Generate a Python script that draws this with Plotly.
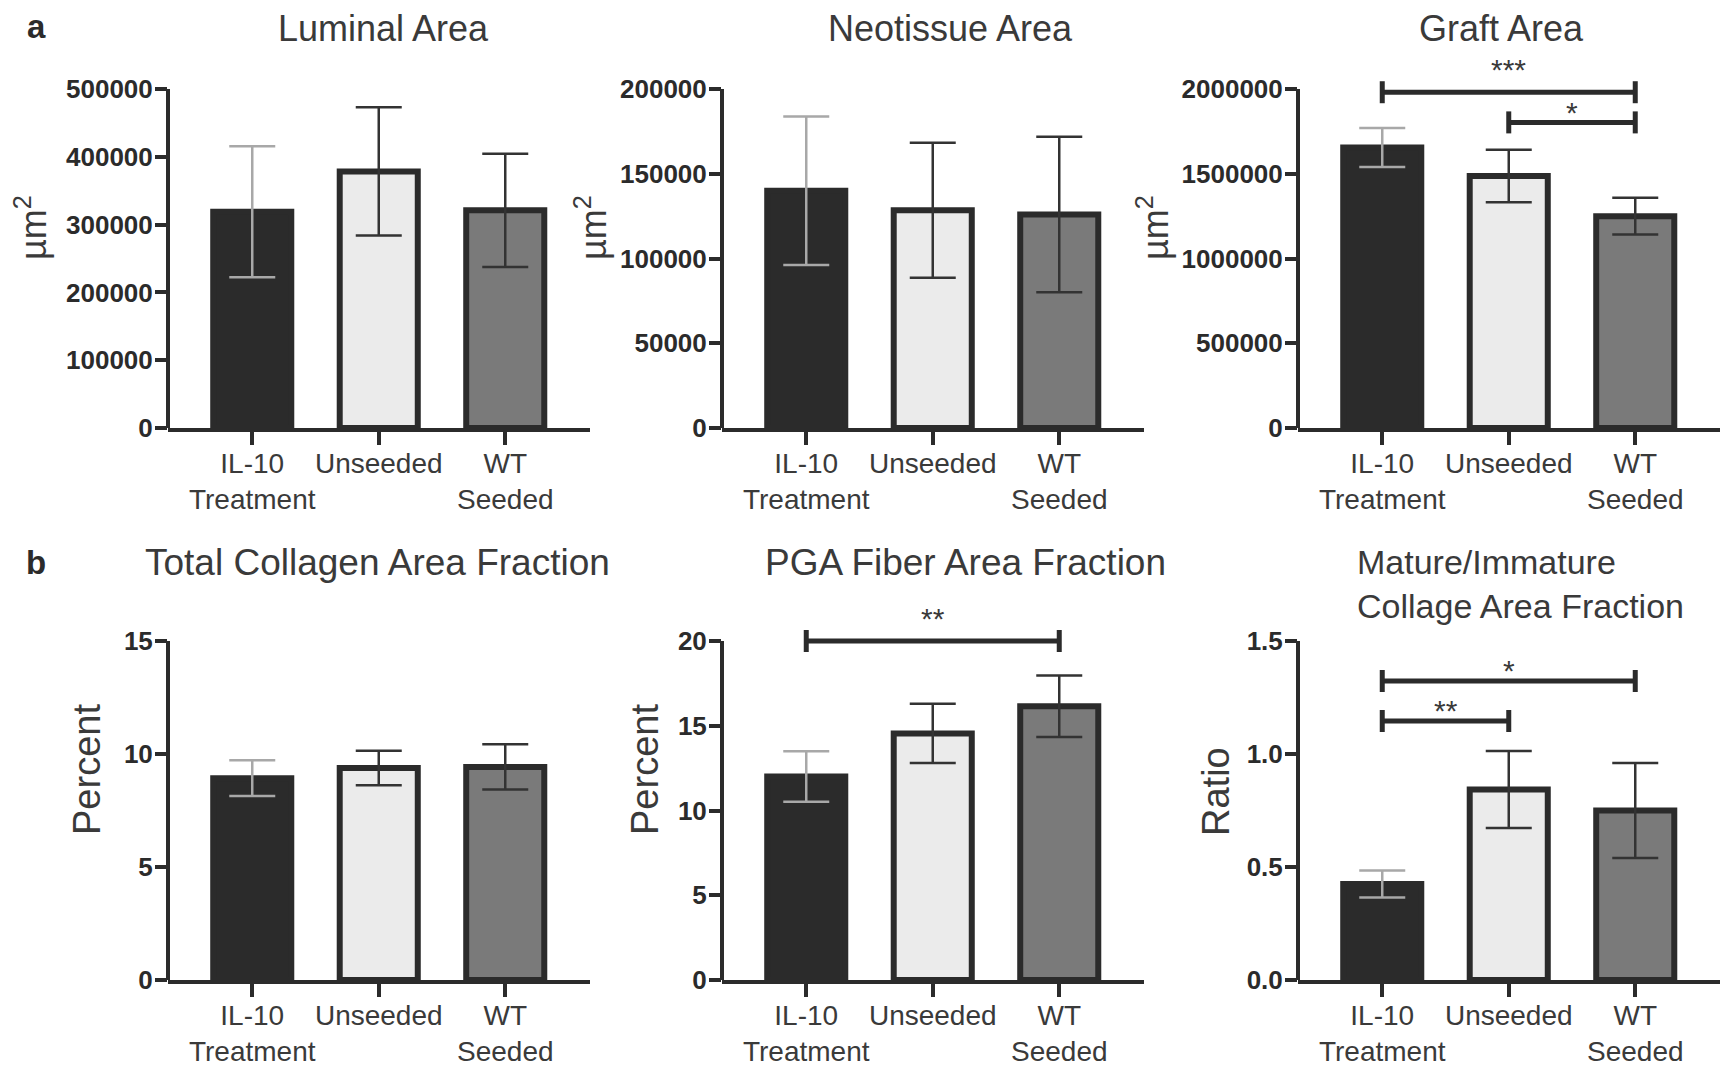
import plotly.graph_objects as go

# ---------------- data ----------------
categories = ["IL-10 Treatment", "Unseeded", "WT Seeded"]
tick_labels = ["IL-10<br>Treatment", "Unseeded", "WT<br>Seeded"]

luminal_mean = [319000, 378500, 321000]
luminal_sem = [96500, 94400, 83600]
luminal_ticks = [0, 100000, 200000, 300000, 400000, 500000]

neotissue_mean = [140000, 128500, 126000]
neotissue_sem = [43800, 39800, 45900]
neotissue_ticks = [0, 50000, 100000, 150000, 200000]

graft_mean = [1655000, 1487000, 1250000]
graft_sem = [115000, 155000, 108000]
graft_ticks = [0, 500000, 1000000, 1500000, 2000000]
graft_sig = [("IL-10 Treatment", "WT Seeded", 1981000, "***"),
             ("Unseeded", "WT Seeded", 1803000, "*")]

collagen_mean = [8.93, 9.38, 9.43]
collagen_sem = [0.79, 0.76, 1.00]
collagen_ticks = [0, 5, 10, 15]

pga_mean = [12.0, 14.55, 16.15]
pga_sem = [1.49, 1.75, 1.81]
pga_ticks = [0, 5, 10, 15, 20]
pga_sig = [("IL-10 Treatment", "WT Seeded", 20.0, "**")]

ratio_mean = [0.425, 0.843, 0.750]
ratio_sem = [0.060, 0.170, 0.210]
ratio_ticks = [0.0, 0.5, 1.0, 1.5]
ratio_sig = [("IL-10 Treatment", "WT Seeded", 1.323, "*"),
             ("IL-10 Treatment", "Unseeded", 1.146, "**")]

titles = ["Luminal Area", "Neotissue Area", "Graft Area",
          "Total Collagen Area Fraction", "PGA Fiber Area Fraction",
          "Mature/Immature<br>Collage Area Fraction"]
y_titles = ["µm<sup>2</sup>", "µm<sup>2</sup>", "µm<sup>2</sup>", "Percent", "Percent", "Ratio"]

# ---------------- style / layout ----------------
W, H = 1729, 1068
OFF = 8            # page body margin compensation (px)
FONT = "Liberation Sans, Arial, Helvetica, sans-serif"
DARK = "#2b2b2b"
TEXT = "#3a3a3a"
fills = ["#2b2b2b", "#ebebeb", "#7a7a7a"]
err_colors = ["#a8a8a8", "#333333", "#333333"]

col_px = [(168, 590), (722, 1144), (1298, 1720)]
row_px = [(89, 428), (641, 980)]       # (top tick pixel, zero pixel)
x_range = [-0.666, 2.67]

panels = [
    dict(mean=luminal_mean, sem=luminal_sem, ticks=luminal_ticks, fmt="d", ymax=500000, sig=[], gaps=[]),
    dict(mean=neotissue_mean, sem=neotissue_sem, ticks=neotissue_ticks, fmt="d", ymax=200000, sig=[], gaps=[]),
    dict(mean=graft_mean, sem=graft_sem, ticks=graft_ticks, fmt="d", ymax=2100000, sig=graft_sig, gaps=[30, 17]),
    dict(mean=collagen_mean, sem=collagen_sem, ticks=collagen_ticks, fmt="d", ymax=15, sig=[], gaps=[]),
    dict(mean=pga_mean, sem=pga_sem, ticks=pga_ticks, fmt="d", ymax=21, sig=pga_sig, gaps=[30]),
    dict(mean=ratio_mean, sem=ratio_sem, ticks=ratio_ticks, fmt=".1f", ymax=1.5, sig=ratio_sig, gaps=[18, 18]),
]

title_pos = [(383, 28), (950, 28), (1501, 28), (377, 562), (965, 562), (1355, 584)]
title_size = [36, 36, 36, 37, 37, 34]
ytitle_pos = [(31, 228), (591, 228), (1153, 228), (87, 770), (645, 770), (1216, 792)]
ytitle_size = [36, 36, 36, 38, 38, 38]

fig = go.Figure()
shapes = []
annotations = []

def px2paper(x, y):
    return (x - OFF) / W, 1 - (y - OFF) / H

for i, p in enumerate(panels):
    r, c = divmod(i, 3)
    n = i + 1
    xa = "x" if n == 1 else f"x{n}"
    ya = "y" if n == 1 else f"y{n}"
    top_px, zero_px = row_px[r]
    top_tick = max(p["ticks"])
    ppu = (zero_px - top_px) / top_tick
    plot_top = zero_px - p["ymax"] * ppu
    x0, x1 = col_px[c]
    dx0, _ = px2paper(x0, 0)
    dx1, _ = px2paper(x1, 0)
    _, dy0 = px2paper(0, zero_px)
    _, dy1 = px2paper(0, plot_top)

    for k, cat in enumerate(categories):
        fig.add_trace(go.Bar(
            x=[cat], y=[p["mean"][k]], xaxis=xa, yaxis=ya, width=0.617,
            marker=dict(color=fills[k], line=dict(color=DARK, width=6)),
            error_y=dict(type="data", array=[p["sem"][k]], visible=True,
                         color=err_colors[k], thickness=2.5, width=23),
            hoverinfo="x+y", showlegend=False))

    axis_x = dict(domain=[dx0, dx1], range=x_range, type="category",
                  categoryorder="array", categoryarray=categories,
                  tickvals=categories, ticktext=tick_labels, tickangle=0,
                  showline=True, linewidth=4, linecolor=DARK,
                  ticks="outside", ticklen=13, tickwidth=4, tickcolor=DARK,
                  ticklabelstandoff=-6, automargin=False,
                  tickfont=dict(family=FONT, size=28, color=TEXT),
                  showgrid=False, zeroline=False, anchor=ya, fixedrange=True)
    axis_y = dict(domain=[dy0, dy1], range=[0, p["ymax"]],
                  tickvals=p["ticks"], tickformat=p["fmt"], tickangle=0,
                  showline=False, ticks="outside", ticklen=12, tickwidth=4, tickcolor=DARK,
                  ticklabelstandoff=-3, automargin=False,
                  tickfont=dict(family=FONT, size=26, color=DARK, weight="bold"),
                  showgrid=False, zeroline=False, anchor=xa, fixedrange=True)
    fig.update_layout({("xaxis" if n == 1 else f"xaxis{n}"): axis_x,
                       ("yaxis" if n == 1 else f"yaxis{n}"): axis_y})

    # y axis line from 0 to top tick
    shapes.append(dict(type="line", xref=f"{xa} domain", yref=ya, x0=0, x1=0,
                       y0=0, y1=top_tick, line=dict(color=DARK, width=4)))

    # significance brackets
    cap = 11 / ppu
    for (g1, g2, yv, lab), gap in zip(p["sig"], p["gaps"]):
        i1, i2 = categories.index(g1), categories.index(g2)
        shapes.append(dict(type="line", xref=xa, yref=ya, x0=i1, x1=i2, y0=yv, y1=yv,
                           line=dict(color=DARK, width=5)))
        for ix in (i1, i2):
            shapes.append(dict(type="line", xref=xa, yref=ya, x0=ix, x1=ix,
                               y0=yv - cap, y1=yv + cap, line=dict(color=DARK, width=5)))
        annotations.append(dict(xref=xa, yref=ya, x=(i1 + i2) / 2, y=yv, text=lab,
                                showarrow=False, xanchor="center", yanchor="middle",
                                yshift=gap - 7,
                                font=dict(family=FONT, size=30, color=TEXT)))

    # titles
    tx, ty = px2paper(*title_pos[i])
    annotations.append(dict(xref="paper", yref="paper", x=tx, y=ty, text=titles[i],
                            showarrow=False, xanchor="left" if i == 5 else "center",
                            yanchor="middle", align="left",
                            font=dict(family=FONT, size=title_size[i], color=TEXT)))
    yx, yy = px2paper(*ytitle_pos[i])
    annotations.append(dict(xref="paper", yref="paper", x=yx, y=yy, text=y_titles[i],
                            showarrow=False, xanchor="center", yanchor="middle", textangle=-90,
                            font=dict(family=FONT, size=ytitle_size[i], color=TEXT)))

for letter, pos in (("a", (36, 27)), ("b", (36, 562))):
    lx, ly = px2paper(*pos)
    annotations.append(dict(xref="paper", yref="paper", x=lx, y=ly, text=letter,
                            showarrow=False, xanchor="center", yanchor="middle",
                            font=dict(family=FONT, size=33, color=DARK, weight="bold")))

fig.update_layout(width=W, height=H, margin=dict(l=0, r=0, t=0, b=0, autoexpand=False),
                  paper_bgcolor="white", plot_bgcolor="white",
                  barmode="overlay", showlegend=False,
                  font=dict(family=FONT, color=TEXT),
                  shapes=shapes, annotations=annotations)

fig.write_html("out.html")
